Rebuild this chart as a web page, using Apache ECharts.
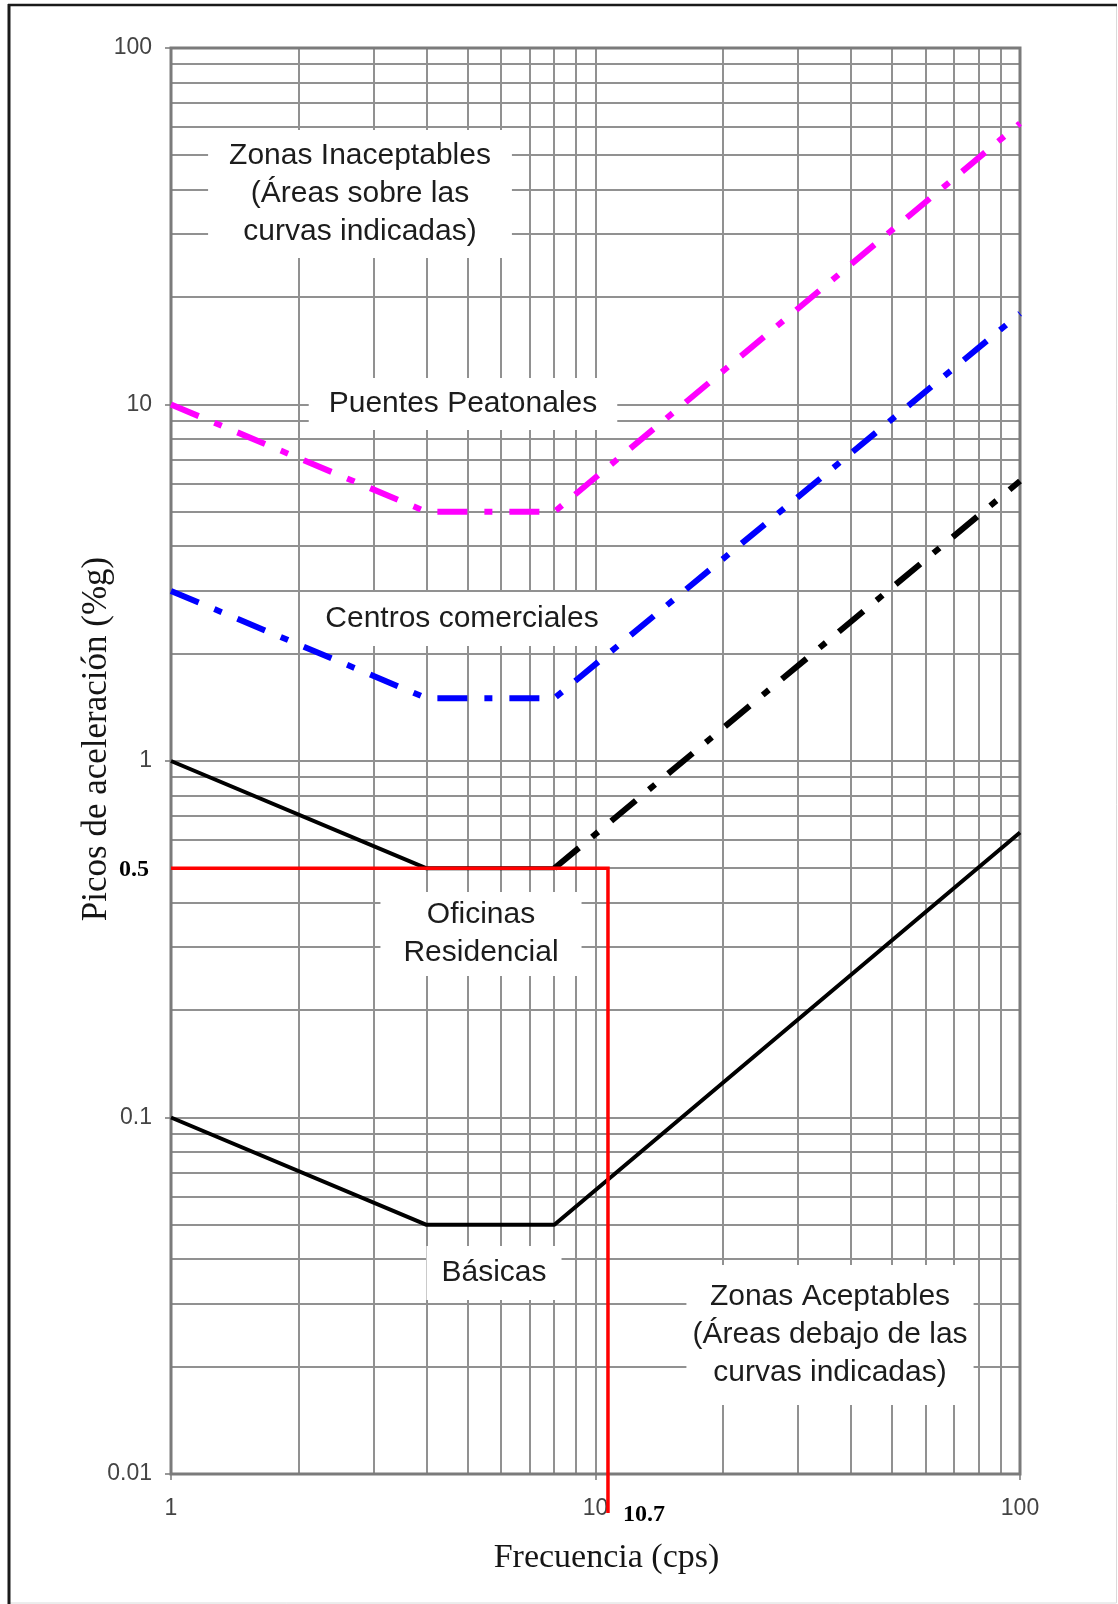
<!DOCTYPE html>
<html>
<head>
<meta charset="utf-8">
<title>Picos de aceleración vs frecuencia</title>
<script src="https://cdn.jsdelivr.net/npm/echarts@6/dist/echarts.min.js"></script>
<style>
  html, body { margin: 0; padding: 0; background: #ffffff; overflow: hidden; }
  #chart { width: 1118px; height: 1604px; }
</style>
</head>
<body>
<div id="chart"></div>
<script>
// Frequency breakpoints (cps) shared by every limit curve
const freqHz = [1, 4, 8, 100];
// Peak acceleration limits (%g) at each breakpoint
const footbridges = [10, 5, 5, 61.5];
const shoppingCentres = [3, 1.5, 1.5, 18];
const officesResidential = [1, 0.5, 0.5, 6.1];
const basicCurve = [0.1, 0.05, 0.05, 0.63];
// Worked example: floor with 10.7 cps read at 0.5 %g
const exampleFreq = 10.7;
const exampleAccel = 0.5;
// Axis ranges and tick labels
const xRange = [1, 100];
const yRange = [0.01, 100];
const xTickLabels = ['1', '10', '100'];
const yTickLabels = ['0.01', '0.1', '1', '10', '100'];

// log-paper grid values: 1..9 in every decade, inside the plot
function decadeLines(lo, hi) {
  const out = [];
  for (let d = lo; d < hi * 0.999; d *= 10) {
    for (let k = 1; k <= 9; k++) {
      const v = +(k * d).toPrecision(6);
      if (v > lo * 1.0001 && v < hi * 0.9999) out.push(v);
    }
  }
  return out;
}
const gridItems = [];
decadeLines(xRange[0], xRange[1]).forEach(v => gridItems.push([v, 1, 0]));
decadeLines(yRange[0], yRange[1]).forEach(v => gridItems.push([1, v, 1]));

const pairs = (ys, from, to) => freqHz.slice(from, to).map((f, i) => [f, ys[from + i]]);

function tickText(labels) {
  return v => {
    const e = Math.round(Math.log10(v));
    return labels.find(s => Math.round(Math.log10(parseFloat(s))) === e) || '';
  };
}

const sansFont = '"Liberation Sans", Arial, sans-serif';
const serifFont = '"Liberation Serif", "Times New Roman", serif';

function note(text, x, y, pad) {
  return {
    type: 'text', x: x, y: y, z: 3, silent: true,
    style: {
      text: text, font: '30px ' + sansFont, fill: '#1c1c1c',
      align: 'center', verticalAlign: 'middle', lineHeight: 38,
      backgroundColor: '#ffffff', padding: pad
    }
  };
}

const chart = echarts.init(document.getElementById('chart'), null, { renderer: 'canvas' });

chart.setOption({
  animation: false,
  backgroundColor: '#ffffff',
  grid: {
    left: 171, right: 98, top: 48, bottom: 130,
    show: true, z: 5, backgroundColor: 'transparent',
    borderColor: '#7b7b7b', borderWidth: 3
  },
  xAxis: {
    type: 'log', logBase: 10, min: xRange[0], max: xRange[1],
    name: 'Frecuencia (cps)', nameLocation: 'middle', nameGap: 67, nameMoveOverlap: false,
    nameTextStyle: { fontFamily: serifFont, fontSize: 34, color: '#151515', padding: [0, 0, 0, 22] },
    axisLine: { show: false },
    axisTick: { show: true, length: 6, lineStyle: { color: '#777', width: 1.5 } },
    splitLine: { show: false },
    axisLabel: {
      margin: 23, fontFamily: sansFont, fontSize: 23, color: '#444',
      showMinLabel: true, showMaxLabel: true, formatter: tickText(xTickLabels)
    }
  },
  yAxis: {
    type: 'log', logBase: 10, min: yRange[0], max: yRange[1],
    name: 'Picos de aceleración (%g)', nameLocation: 'middle', nameGap: 57, nameRotate: 90,
    nameMoveOverlap: false,
    nameTextStyle: { fontFamily: serifFont, fontSize: 35, color: '#151515', padding: [0, 0, 0, 44] },
    axisLine: { show: false },
    axisTick: { show: true, length: 6, lineStyle: { color: '#777', width: 1.5 } },
    splitLine: { show: false },
    axisLabel: {
      margin: 19, fontFamily: sansFont, fontSize: 23, color: '#444',
      showMinLabel: true, showMaxLabel: true, formatter: tickText(yTickLabels)
    }
  },
  series: [
    {
      // log-paper grid
      type: 'custom', z: 2, silent: true, data: gridItems,
      renderItem: (params, api) => {
        let x1, y1, x2, y2;
        if (api.value(2) === 0) {
          const x = Math.round(api.coord([api.value(0), yRange[1]])[0]);
          x1 = x2 = x;
          y1 = api.coord([1, yRange[1]])[1];
          y2 = api.coord([1, yRange[0]])[1];
        } else {
          const y = Math.round(api.coord([xRange[0], api.value(1)])[1]);
          y1 = y2 = y;
          x1 = api.coord([xRange[0], 1])[0];
          x2 = api.coord([xRange[1], 1])[0];
        }
        return {
          type: 'line', shape: { x1, y1, x2, y2 },
          style: { stroke: '#919191', lineWidth: 2 }
        };
      }
    },
    {
      name: 'Puentes Peatonales', type: 'line', z: 6, symbol: 'none', silent: true,
      data: pairs(footbridges, 0, 4),
      lineStyle: { color: '#ff00ff', width: 6, type: [30, 17, 8, 17], cap: 'butt' }
    },
    {
      name: 'Centros comerciales', type: 'line', z: 6, symbol: 'none', silent: true,
      data: pairs(shoppingCentres, 0, 4),
      lineStyle: { color: '#0000ff', width: 6, type: [30, 17, 8, 17], cap: 'butt' }
    },
    {
      name: 'Oficinas Residencial', type: 'line', z: 6, symbol: 'none', silent: true,
      data: pairs(officesResidential, 0, 3),
      lineStyle: { color: '#000000', width: 4 }
    },
    {
      name: 'Oficinas Residencial (f > 8)', type: 'line', z: 6, symbol: 'none', silent: true,
      data: pairs(officesResidential, 2, 4),
      lineStyle: { color: '#000000', width: 6, type: [32, 17, 8, 17], cap: 'butt' }
    },
    {
      name: 'Básicas', type: 'line', z: 6, symbol: 'none', silent: true,
      data: pairs(basicCurve, 0, 4),
      lineStyle: { color: '#000000', width: 4 }
    },
    {
      // worked example: reading lines with their values
      type: 'custom', z: 8, silent: true, clip: false,
      data: [[exampleFreq, exampleAccel]],
      renderItem: (params, api) => {
        const fx = api.value(0), ay = api.value(1);
        const corner = api.coord([fx, ay]);
        const start = api.coord([xRange[0], ay]);
        const foot = api.coord([fx, yRange[0]]);
        return {
          type: 'group',
          children: [
            {
              type: 'polyline',
              shape: { points: [start, corner, [corner[0], foot[1] + 39]] },
              style: { stroke: '#ff0000', lineWidth: 3.5, fill: null }
            },
            {
              type: 'text', x: start[0] - 22, y: start[1] + 1,
              style: { text: String(ay), font: 'bold 24px ' + serifFont, fill: '#000',
                       align: 'right', verticalAlign: 'middle' }
            },
            {
              type: 'text', x: corner[0] + 15, y: foot[1] + 41,
              style: { text: String(fx), font: 'bold 24px ' + serifFont, fill: '#000',
                       align: 'left', verticalAlign: 'middle' }
            }
          ]
        };
      }
    }
  ],
  graphic: [
    note('Zonas Inaceptables\n(Áreas sobre las\ncurvas indicadas)', 360, 194, [7, 21]),
    note('Puentes Peatonales', 463, 404, [7, 20]),
    note('Centros comerciales', 462, 619, [8, 20]),
    note('Oficinas\nResidencial', 481, 934, [4, 23]),
    note('Básicas', 494, 1273, [8, 15]),
    note('Zonas Aceptables\n(Áreas debajo de las\ncurvas indicadas)', 830, 1335, [13, 6]),
    // page frame: light right/bottom edges, dark left/top edges
    { type: 'rect', z: 10, silent: true, shape: { x: 9.5, y: 5.5, width: 1107, height: 1097.5 + 500 },
      style: { fill: null, stroke: '#dadada', lineWidth: 1 } },
    { type: 'line', z: 11, silent: true, shape: { x1: 9, y1: 4, x2: 9, y2: 1604 }, style: { stroke: '#1a1a1a', lineWidth: 3 } },
    { type: 'line', z: 11, silent: true, shape: { x1: 8, y1: 5, x2: 1117, y2: 5 }, style: { stroke: '#1a1a1a', lineWidth: 2.5 } }
  ]
});
</script>
</body>
</html>
